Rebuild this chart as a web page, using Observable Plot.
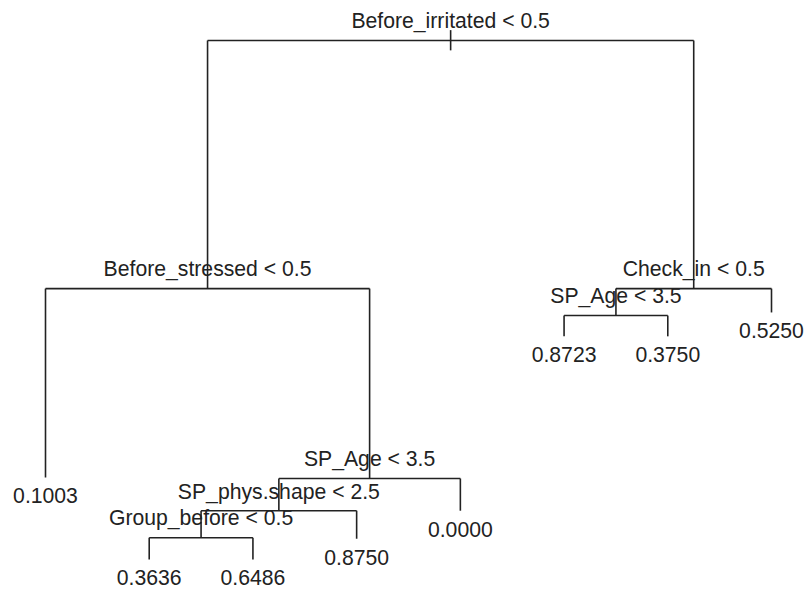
<!DOCTYPE html>
<html>
<head>
<meta charset="utf-8">
<script src="https://cdn.jsdelivr.net/npm/d3@7"></script>
<script src="https://cdn.jsdelivr.net/npm/@observablehq/plot@0.6"></script>
<style>
  html, body { margin: 0; padding: 0; background: #fff; }
</style>
</head>
<body>
<div id="chart"></div>
<script>
// Tree nodes (R "tree" numbering: children of n are 2n and 2n+1)
const nodeIds   = [1, 2, 4, 5, 10, 20, 40, 41, 21, 11, 3, 6, 12, 13, 7];
const nodeText  = ["Before_irritated < 0.5", "Before_stressed < 0.5", "0.1003", "SP_Age < 3.5",
                   "SP_phys.shape < 2.5", "Group_before < 0.5", "0.3636", "0.6486", "0.8750", "0.0000",
                   "Check_in < 0.5", "SP_Age < 3.5", "0.8723", "0.3750", "0.5250"];
// deviance-like vertical position of each node
const nodeDev   = [100, 52.2, 15.8, 15.6, 9.4, 4.2, 0, 0, 4.0, 9.4, 52.2, 47.0, 43.0, 43.0, 47.6];

// build node table
const byId = new Map();
nodeIds.forEach((id, i) => byId.set(id, {id, text: nodeText[i], dev: nodeDev[i]}));
const isLeaf = n => !byId.has(n.id * 2);

// layout: leaves left-to-right at 1..n, internal node at mean of children
let leafCount = 0;
function layout(id) {
  const n = byId.get(id);
  if (isLeaf(n)) { n.x = ++leafCount; return n.x; }
  const a = layout(id * 2), b = layout(id * 2 + 1);
  n.x = (a + b) / 2;
  return n.x;
}
layout(1);

const nodes = [...byId.values()];
const internal = nodes.filter(n => !isLeaf(n));
const leaves = nodes.filter(isLeaf);

const hSegs = internal.map(n => ({x1: byId.get(n.id*2).x, x2: byId.get(n.id*2+1).x, y: n.dev}));
const vSegs = nodes.filter(n => n.id !== 1).map(n => {
  const p = byId.get(Math.floor(n.id / 2));
  return {x: n.x, y1: p.dev, y2: n.dev};
});
const root = byId.get(1);
const rootTick = [{x: root.x, y1: root.dev + 2.0, y2: root.dev - 1.9}];

const ink = "#222";
const font = "Liberation Sans, Arial, Helvetica, sans-serif";
const fs = 21.2;

const chart = Plot.plot({
  width: 807,
  height: 594,
  marginLeft: 45,
  marginRight: 36,
  marginTop: 40,
  marginBottom: 35,
  x: {domain: [1, leafCount], axis: null},
  y: {domain: [0, 100], axis: null},
  style: {fontFamily: font, background: "#fff", overflow: "visible"},
  marks: [
    Plot.link(hSegs, {x1: "x1", x2: "x2", y1: "y", y2: "y", stroke: ink, strokeWidth: 1.6}),
    Plot.link(vSegs, {x1: "x", x2: "x", y1: "y1", y2: "y2", stroke: ink, strokeWidth: 1.6}),
    Plot.link(rootTick, {x1: "x", x2: "x", y1: "y1", y2: "y2", stroke: ink, strokeWidth: 1.6}),
    Plot.text(internal, {x: "x", y: "dev", text: "text", dy: -19, fill: ink, fontSize: fs, textAnchor: "middle", lineAnchor: "middle", fontFamily: font}),
    Plot.text(leaves, {x: "x", y: "dev", text: "text", dy: 19, fill: ink, fontSize: fs, textAnchor: "middle", lineAnchor: "middle", fontFamily: font})
  ]
});
document.getElementById("chart").appendChild(chart);
</script>
</body>
</html>
